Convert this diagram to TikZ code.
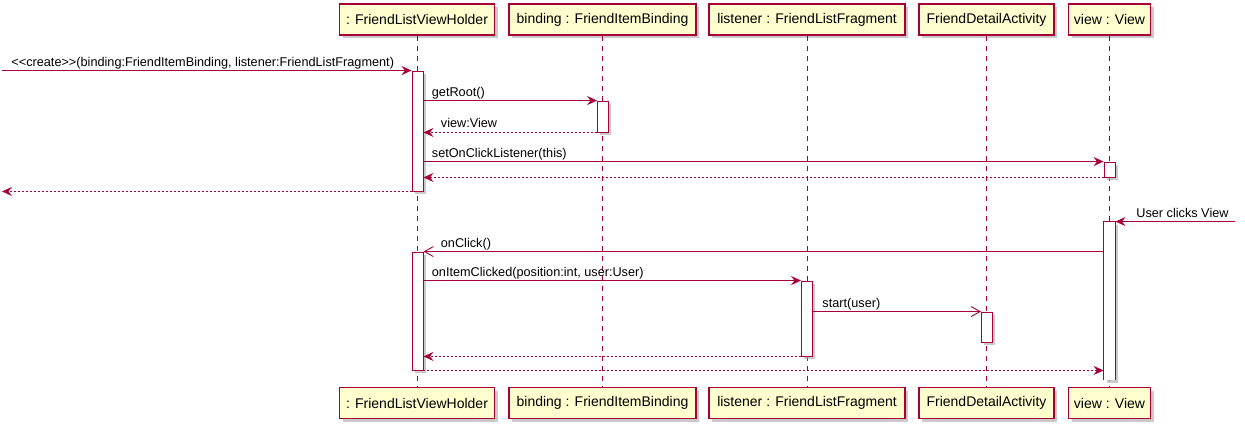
\documentclass[tikz,border=0pt]{standalone}
\usepackage{fontspec}
\setmainfont{Liberation Sans}
\usetikzlibrary{arrows.meta,shadows}
\definecolor{umlred}{HTML}{A80036}
\definecolor{umlfill}{HTML}{FEFECE}
\tikzset{
	part/.style={draw=umlred, line width=1.1pt, fill=umlfill, minimum height=31pt, inner sep=0pt,
		font=\fontsize{14}{16}\selectfont, drop shadow={shadow xshift=3pt, shadow yshift=-3pt, fill=black!35, opacity=0.6}},
	life/.style={umlred, line width=0.8pt, dash pattern=on 5pt off 5pt},
	bar/.style={draw=umlred, line width=0.9pt, fill=white, minimum width=11pt, inner sep=0pt,
		drop shadow={shadow xshift=2.5pt, shadow yshift=-2.5pt, fill=black!35, opacity=0.6}},
	msg/.style={umlred, line width=0.9pt, -{Stealth[length=10pt, width=9pt, inset=3.5pt]}},
	ret/.style={msg, dash pattern=on 2pt off 2pt},
	async/.style={umlred, line width=0.9pt, -{Straight Barb[length=9pt, width=10pt]}},
	lbl/.style={black, inner sep=0pt, yshift=4.5pt, font=\fontsize{12.7}{15}\selectfont}
}
\begin{document}
\begin{tikzpicture}[x=1pt, y=-1pt]
	\useasboundingbox (0,0) rectangle (1245,429);
	\coordinate (lft) at (2,0);
	\coordinate (rgt) at (1235,0);
	% participants
	\node[part, minimum width=155pt] (vhT) at (417,19.5) {: FriendListViewHolder};
	\node[part, minimum width=187pt] (bindT) at (602.5,19.5) {binding : FriendItemBinding};
	\node[part, minimum width=196pt] (lisT) at (807,19.5) {listener : FriendListFragment};
	\node[part, minimum width=135pt] (fdaT) at (986.5,19.5) {FriendDetailActivity};
	\node[part, minimum width=82pt] (viewT) at (1109.5,19.5) {view : View};
	\node[part, minimum width=155pt] (vhB) at (417,403) {: FriendListViewHolder};
	\node[part, minimum width=187pt] (bindB) at (602.5,403) {binding : FriendItemBinding};
	\node[part, minimum width=196pt] (lisB) at (807,403) {listener : FriendListFragment};
	\node[part, minimum width=135pt] (fdaB) at (986.5,403) {FriendDetailActivity};
	\node[part, minimum width=82pt] (viewB) at (1109.5,403) {view : View};
	\draw[life] (vhT) -- (vhB);
	\draw[life] (bindT) -- (bindB);
	\draw[life] (lisT) -- (lisB);
	\draw[life] (fdaT) -- (fdaB);
	\draw[life] (viewT) -- (viewB);
	% activations
	\node[bar, minimum height=120pt] (a1) at (417.5,131) {};
	\node[bar, minimum height=31pt] (a2) at (603,116.5) {};
	\node[bar, minimum height=15pt] (a3) at (1109.5,169.5) {};
	\node[bar, draw=none, minimum height=158pt] (a4) at (1109.5,301) {};
	\draw[umlred, line width=0.9pt] (a4.south west) |- (a4.north east) -- (a4.south east);
	\node[bar, minimum height=118pt] (a5) at (417.5,311) {};
	\node[bar, minimum height=75pt] (a6) at (807,318.5) {};
	\node[bar, minimum height=30pt] (a7) at (987,327) {};
	% messages
	\draw[msg] (lft |- a1.north) -- node[lbl, pos=0, anchor=base west, xshift=9pt] (t1) {<{}<create>{}>(binding:FriendItemBinding, listener:FriendListFragment)} (a1.north west);
	\draw[msg] (a1.east |- a2.north) -- node[lbl, pos=0, anchor=base west, xshift=8pt] (t2) {getRoot()} (a2.north west);
	\draw[ret] (a2.south west) -- node[lbl, pos=1, anchor=base west, xshift=17pt] (t3) {view:View} (a1.east |- a2.south);
	\draw[msg] (a1.east |- a3.north) -- node[lbl, pos=0, anchor=base west, xshift=8pt] (t4) {setOnClickListener(this)} (a3.north west);
	\draw[ret] (a3.south west) -- (a1.east |- a3.south);
	\draw[ret] (a1.south west) -- (lft |- a1.south);
	\draw[msg] (rgt |- a4.north) -- node[lbl, pos=0, anchor=base east, xshift=-6pt] (t7) {User clicks View} (a4.north east);
	\draw[async] (a4.west |- a5.north) -- node[lbl, pos=1, anchor=base west, xshift=17pt] (t8) {onClick()} (a5.north east);
	\draw[msg] (a5.east |- a6.north) -- node[lbl, pos=0, anchor=base west, xshift=8pt] (t9) {onItemClicked(position:int, user:User)} (a6.north west);
	\draw[async] (a6.east |- a7.north) -- node[lbl, pos=0, anchor=base west, xshift=9pt] (t10) {start(user)} (a7.north west);
	\draw[ret] (a6.south west) -- (a5.east |- a6.south);
	\draw[ret] (a5.south east) -- (a4.west |- a5.south);
\end{tikzpicture}
\end{document}
